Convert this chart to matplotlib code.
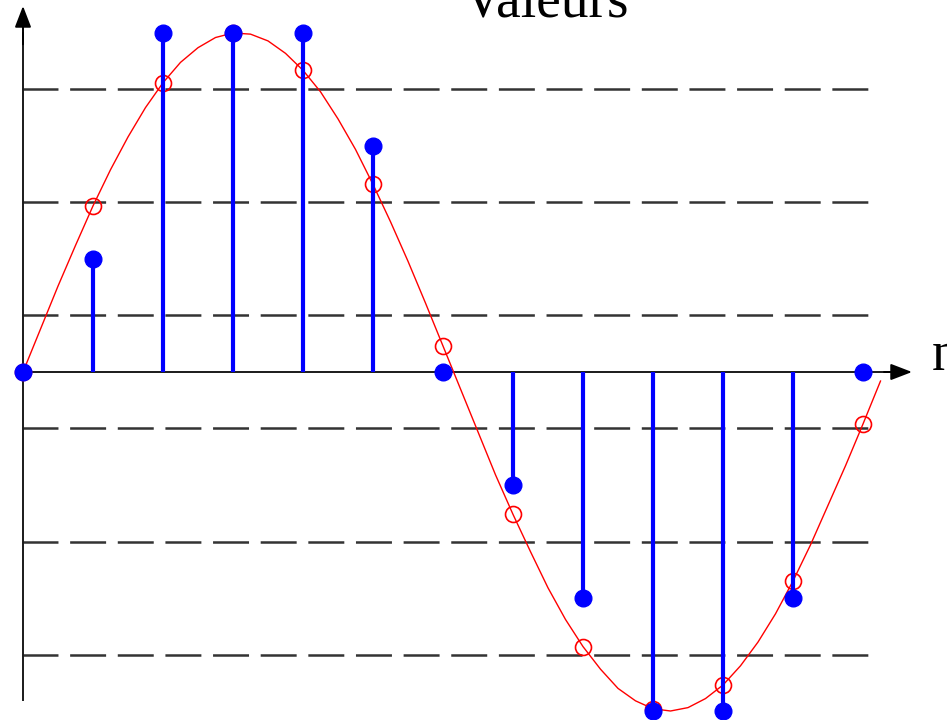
import numpy as np
import matplotlib
matplotlib.use("Agg")
import matplotlib.pyplot as plt

plt.rcParams['lines.scale_dashes'] = False

# Sample index
n = [0, 1, 2, 3, 4, 5, 6, 7, 8, 9, 10, 11, 12]

# Sampled analog values (red circles)
samples = [0.0, 1.47, 2.56, 3.0, 2.67, 1.66, 0.23, -1.26, -2.43, -2.98, -2.77, -1.85, -0.46]

# Quantized values (blue stems)
quantized = [0, 1, 3, 3, 3, 2, 0, -1, -2, -3, -3, -2, 0]

# Analog signal, read every quarter step
t_curve = [0, 0.25, 0.5, 0.75, 1, 1.25, 1.5, 1.75, 2, 2.25, 2.5, 2.75, 3, 3.25,
           3.5, 3.75, 4, 4.25, 4.5, 4.75, 5, 5.25, 5.5, 5.75, 6, 6.25, 6.5,
           6.75, 7, 7.25, 7.5, 7.75, 8, 8.25, 8.5, 8.75, 9, 9.25, 9.5, 9.75,
           10, 10.25, 10.5, 10.75, 11, 11.25, 11.5, 11.75, 12, 12.25]
v_curve = [0.0, 0.38, 0.76, 1.12, 1.47, 1.79, 2.08, 2.34, 2.56, 2.74, 2.87, 2.96,
           3.0, 2.99, 2.93, 2.82, 2.67, 2.48, 2.24, 1.97, 1.66, 1.33, 0.98, 0.61,
           0.23, -0.15, -0.53, -0.91, -1.26, -1.59, -1.91, -2.19, -2.43, -2.63,
           -2.80, -2.91, -2.98, -3.0, -2.97, -2.89, -2.77, -2.60, -2.39, -2.14,
           -1.85, -1.53, -1.18, -0.83, -0.46, -0.08]

# Decision thresholds between quantization levels
thresholds = [2.5, 1.5, 0.5, -0.5, -1.5, -2.5]

fig = plt.figure(figsize=(9.47, 7.2), dpi=100)
ax = fig.add_axes([0, 0, 1, 1])
ax.set_xlim(-23 / 70, 924 / 70)
ax.set_ylim(-348 / 113, 372 / 113)
ax.axis('off')

# dashed threshold lines
for th in thresholds:
    ax.plot([-0.01, 12.07], [th, th], color='#333333', linewidth=1.8,
            dashes=(25.9, 8.4), zorder=1)

# axes with arrows
ax.plot([0, 12.5], [0, 0], color='#1a1a1a', linewidth=1.4, zorder=2)
ax.plot([0, 0], [-2.903, 3.0], color='#1a1a1a', linewidth=1.4, zorder=2)
ax.annotate('', xy=(12.7, 0), xytext=(12.3, 0),
            arrowprops=dict(arrowstyle='-|>,head_length=0.65,head_width=0.25',
                            color='black', lw=1.4, shrinkA=0, shrinkB=0,
                            mutation_scale=20), zorder=2)
ax.annotate('', xy=(0, 3.239), xytext=(0, 2.9),
            arrowprops=dict(arrowstyle='-|>,head_length=0.65,head_width=0.25',
                            color='black', lw=1.4, shrinkA=0, shrinkB=0,
                            mutation_scale=20), zorder=2)

# analog signal and its samples
ax.plot(t_curve, v_curve, color='red', linewidth=1.0, zorder=3)
ax.plot(n, samples, linestyle='none', marker='o', markersize=11.5,
        markerfacecolor='none', markeredgecolor='red', markeredgewidth=1.2, zorder=4)

# quantized samples
ax.vlines(n, 0, quantized, color='#0000ff', linewidth=3, zorder=5)
ax.plot(n, quantized, linestyle='none', marker='o', markersize=12,
        color='#0000ff', zorder=6)

ax.text(7.47, 3.15, 'Valeurs', fontsize=40, family='Liberation Serif',
        ha='center', va='baseline')
ax.text(12.986, 0.018, 'n', fontsize=40, family='Liberation Serif',
        ha='left', va='baseline')

fig.savefig('out.png', dpi=100)
